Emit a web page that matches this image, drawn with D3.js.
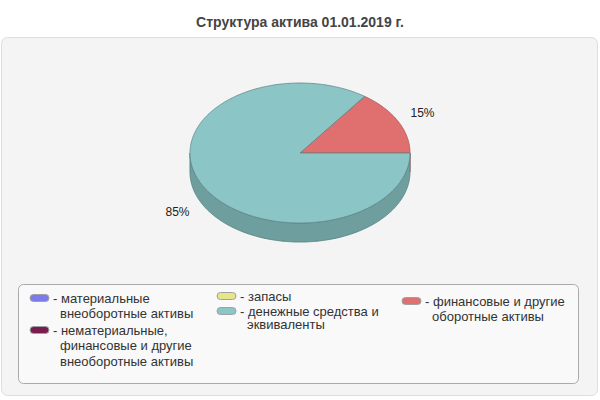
<!DOCTYPE html>
<html><head><meta charset="utf-8">
<script src="https://cdn.jsdelivr.net/npm/d3@7"></script>
<style>body{margin:0;background:#fff}svg{display:block}text{font-family:"Liberation Sans",Arial,sans-serif}</style>
</head><body><svg id="c" width="600" height="400"></svg>
<script>
const title = "Структура актива 01.01.2019 г.";
const categories = ["материальные внеоборотные активы","нематериальные, финансовые и другие внеоборотные активы","запасы","денежные средства и эквиваленты","финансовые и другие оборотные активы"];
const legendLines = [["материальные","внеоборотные активы"],["нематериальные,","финансовые и другие","внеоборотные активы"],["запасы"],["денежные средства и","эквиваленты"],["финансовые и другие","оборотные активы"]];
const colors = ["#7b7bee","#781c52","#e5e58c","#8cc5c6","#e07070"];
const sideColors = ["#5f5fbb","#5a1540","#b5b56d","#6f9e9e","#b35a5a"];
const edgeColors = ["#5050a0","#4a1035","#9a9a5a","#5c8888","#a85050"];
// values (percent) per category
const values = [0, 0, 0, 85, 15];
// draw order for the pie (red first from east going counterclockwise)
const pieOrder = [4, 3];

const svg = d3.select("#c");
svg.append("rect").attr("x",1.5).attr("y",37.5).attr("width",596).attr("height",358).attr("rx",6)
  .attr("fill","#f4f4f4").attr("stroke","#dedede");
svg.append("text").attr("x",300).attr("y",27).attr("text-anchor","middle")
  .attr("font-size",14).attr("font-weight","bold").attr("fill","#444").text(title);

const cx=300, cy=153, rx=110, ry=70, depth=19;
const pt=(a,dy=0)=>[cx+rx*Math.sin(a), cy-ry*Math.cos(a)+dy];
const pieData = d3.pie().sort(null).value(i=>values[i]).startAngle(Math.PI/2).endAngle(Math.PI/2-2*Math.PI)(pieOrder);
const arcPts=(a0,a1,dy=0)=>{const n=Math.max(2,Math.ceil(Math.abs(a1-a0)/0.01));return d3.range(n+1).map(k=>pt(a0+(a1-a0)*k/n,dy));};
const line=d3.line();
const g=svg.append("g");
// sides: front half is angles in [PI/2, 3PI/2] (mod 2PI)
pieData.forEach(d=>{
  const i=d.data; let lo=Math.min(d.startAngle,d.endAngle), hi=Math.max(d.startAngle,d.endAngle);
  for(let k=-2;k<=2;k++){
    const fLo=Math.PI/2+2*Math.PI*k, fHi=3*Math.PI/2+2*Math.PI*k;
    const s=Math.max(lo,fLo), e=Math.min(hi,fHi);
    if(e>s){
      const top=arcPts(s,e), bot=arcPts(e,s,depth);
      g.append("path").attr("d",line(top.concat(bot))+"Z").attr("fill",sideColors[i]).attr("stroke",edgeColors[i]).attr("stroke-width",1);
    } else if(Math.abs(e-s)<1e-9){
      const p=pt(s);
      g.append("line").attr("x1",p[0]).attr("y1",p[1]).attr("x2",p[0]).attr("y2",p[1]+depth).attr("stroke",colors[i]).attr("stroke-width",1.5);
    }
  }
});
// tops
pieData.forEach(d=>{
  const i=d.data;
  const pts=[[cx,cy]].concat(arcPts(d.startAngle,d.endAngle));
  g.append("path").attr("d",line(pts)+"Z").attr("fill",colors[i]).attr("stroke",edgeColors[i]).attr("stroke-width",0.8).attr("stroke-linejoin","round");
});
// labels
pieData.forEach(d=>{
  const m=(d.startAngle+d.endAngle)/2, k=1.25;
  const x=cx+rx*k*Math.sin(m), yy=cy-ry*k*Math.cos(m)+(Math.cos(m)<0?depth:0);
  g.append("text").attr("x",x).attr("y",yy).attr("dy","0.35em").attr("text-anchor","middle")
   .attr("font-size",12).attr("fill","#222").text(d3.format(".0f")(values[d.data])+"%");
});

// legend
svg.append("rect").attr("x",18.5).attr("y",284.5).attr("width",560).attr("height",99).attr("rx",5)
  .attr("fill","#f9f9f9").attr("stroke","#aaa");
const legendPos=[{x:30,y:298,lh:15.7},{x:30,y:330,lh:15.7},{x:217,y:296,lh:15.7},{x:217,y:311,lh:13.5},{x:402,y:301,lh:15}];
legendPos.forEach((p,i)=>{
  const lg=svg.append("g").attr("transform",`translate(${p.x},${p.y})`);
  lg.append("rect").attr("x",0).attr("y",-3.5).attr("width",19).attr("height",7).attr("rx",3.5)
    .attr("fill",colors[i]).attr("stroke","#a0a0a0").attr("stroke-width",1);
  const t=lg.append("text").attr("font-size",13).attr("fill","#333");
  legendLines[i].forEach((s,j)=>{
    t.append("tspan").attr("x",j===0?23:30).attr("y",j*p.lh).attr("dy","0.35em").text(j===0?"- "+s:s);
  });
});
</script></body></html>
